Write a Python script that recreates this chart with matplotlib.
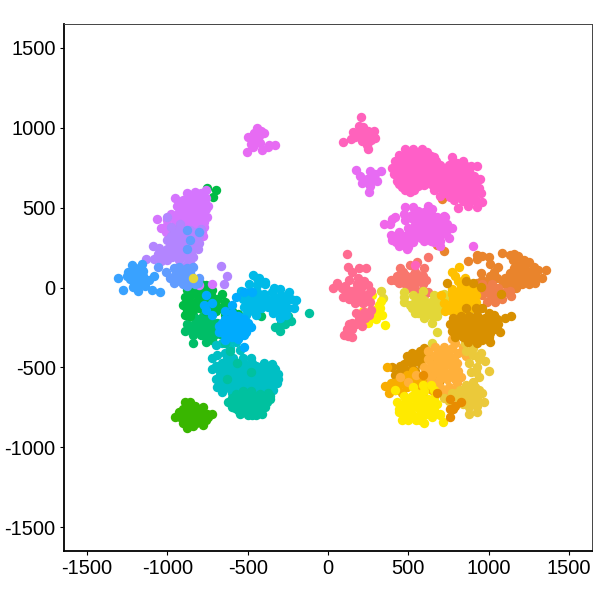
import matplotlib
matplotlib.use("Agg")
import matplotlib.pyplot as plt

plt.rcParams["font.family"] = ["Liberation Sans", "DejaVu Sans"]
plt.rcParams["axes.unicode_minus"] = False

# cluster points (x, y)
salmon = [(450,120),(480,80),(510,40),(470,30),(430,70),(390,50),(440,30),(510,140),(555,160),(620,190),(600,120),(590,70),(610,45),(560,80),(540,100),(520,70),(590,20),(500,0),(540,-10),(620,-30),(600,-50),(465,100),(495,60),(455,55),(415,50),(570,50),(540,30),(575,-30),(500,25)]
orange = [(925,205),(960,195),(930,180),(1000,190),(1080,215),(1130,205),(1160,210),(870,165),(1010,150),(1060,130),(1150,170),(1180,200),(1220,175),(1250,160),(1190,140),(1130,90),(1180,100),(1230,110),(1280,130),(1310,110),(1355,110),(1330,60),(1290,70),(1250,60),(1200,60),(1150,60),(1250,20),(1290,30),(1210,20),(1170,30),(1130,40),(1170,-5),(1120,0),(1090,30),(1050,60),(1010,70),(950,90),(960,50),(930,30),(1000,40),(1220,140),(1260,100),(1160,120),(1210,85),(1280,90),(1240,40),(1190,40),(1150,15),(1100,60),(1030,100)]
orange2 = [(940,-10),(980,-20),(1020,20),(1060,0),(1100,-30),(1060,-50),(1010,-40),(1040,-90),(1080,-70),(1130,-20),(960,-50),(990,-90),(1140,-55),(1030,-20),(1000,0),(1060,-25),(1030,-60),(960,20)]
olive_yellow = [(330,-25),(340,-65),(475,-30),(475,-90),(530,-45),(590,-20),(660,-45),(600,-80),(540,-90),(510,-110),(550,-130),(590,-110),(640,-90),(680,-100),(720,-90),(560,-160),(610,-150),(650,-130),(690,-150),(730,-130),(520,-130),(640,-170),(600,-190),(680,-180),(645,-220),(650,-350),(680,-280),(770,-30),(470,-60),(745,-80),(720,-40),(570,-60),(620,-120),(580,-140),(540,-160),(660,-70),(700,-120),(660,-160),(620,-110),(560,-110)]
yellow_small = [(275,-50),(320,-110),(310,-150),(330,-85),(295,-140),(215,-150),(260,-170),(300,-180),(335,-170),(255,-200),(250,-225),(355,-235),(300,-195),(325,-130)]
pinksalmon = [(120,210),(125,130),(190,120),(235,120),(150,95),(185,60),(130,45),(225,40),(180,20),(250,15),(30,0),(55,30),(85,-5),(105,10),(145,-20),(170,-15),(205,0),(150,-50),(115,-30),(95,-60),(180,-50),(215,-60),(250,-40),(165,-95),(215,-100),(260,-90),(270,-20),(175,-160),(225,-155),(270,-140),(130,-230),(175,-230),(210,-240),(150,-260),(100,-300),(150,-310),(255,-170),(190,-200),(130,-20),(165,-70),(200,-30),(130,-70),(240,-70),(190,-85),(230,-190),(150,-220),(125,-305),(120,-260)]
gold = [(790,70),(770,-10),(705,-50),(815,130),(770,95),(850,60),(880,20),(830,10),(850,-10),(800,-30),(880,-40),(900,-10),(920,-50),(830,-60),(780,-70),(750,-110),(790,-110),(840,-100),(880,-90),(920,-90),(860,-140),(810,-150),(770,-150),(900,-130),(730,-150),(940,-130),(810,40),(830,-30),(860,-70),(810,-80),(860,-30),(770,-40),(890,-65),(830,-125),(870,-110),(720,-100),(900,-50)]
dgold = [(860,40),(900,30),(950,5),(740,30),(1075,-40),(860,-130),(920,-130),(960,-130),(1000,-160),(780,-190),(830,-180),(880,-180),(930,-170),(980,-190),(1030,-170),(1050,-200),(1100,-190),(1140,-180),(760,-230),(810,-230),(860,-220),(910,-220),(960,-230),(1010,-220),(1060,-230),(770,-270),(830,-270),(880,-260),(930,-270),(980,-270),(1030,-260),(1070,-280),(790,-310),(840,-310),(890,-300),(940,-310),(1000,-310),(1010,-340),(870,-340),(930,-350),(960,-330),(800,-210),(855,-200),(905,-195),(955,-200),(1005,-195),(800,-250),(855,-245),(905,-245),(955,-250),(1005,-245),(1045,-245),(815,-290),(860,-285),(910,-285),(960,-290),(1010,-285),(865,-320),(920,-330)]
dgold2 = [(520,-410),(570,-400),(600,-380),(620,-420),(580,-440),(640,-440),(490,-430),(550,-450),(470,-480),(520,-480),(580,-480),(400,-500),(450,-520),(490,-520),(420,-550),(540,-520),(530,-560),(650,-560),(690,-590),(540,-425),(500,-455),(450,-490)]
amber = [(355,-615),(370,-500),(380,-660),(395,-600),(420,-640),(450,-580),(490,-550),(530,-600),(490,-620),(440,-610),(460,-660),(400,-620),(560,-640),(570,-580),(620,-560),(610,-610),(650,-640),(590,-660),(530,-520),(700,-650),(470,-590),(510,-570),(550,-610),(430,-590)]
lorange = [(620,-400),(665,-370),(720,-370),(770,-380),(770,-320),(780,-280),(620,-450),(660,-430),(710,-420),(760,-430),(810,-410),(840,-370),(860,-430),(600,-500),(650,-480),(700,-470),(750,-480),(800,-470),(620,-550),(670,-530),(720,-520),(770,-530),(810,-520),(640,-590),(690,-580),(740,-570),(790,-570),(830,-560),(700,-620),(750,-620),(780,-640),(720,-660),(800,-600),(550,-550),(450,-560),(500,-590),(690,-395),(740,-400),(790,-350),(680,-450),(735,-450),(785,-450),(625,-510),(675,-505),(725,-495),(775,-505),(650,-555),(700,-550),(750,-545),(800,-545),(665,-610)]
yellow2 = [(850,-350),(900,-380),(950,-410),(940,-450),(980,-460),(1000,-520),(930,-500),(880,-470),(890,-530),(940,-560),(900,-590),(940,-640),(960,-660),(900,-640),(860,-610),(820,-640),(770,-660),(810,-690),(850,-680),(890,-700),(930,-700),(970,-720),(880,-750),(930,-780),(840,-730),(880,-790),(750,-710),(720,-690),(900,-420),(860,-400),(915,-620),(860,-650),(900,-670),(800,-660),(850,-705),(890,-725),(930,-740),(920,-530)]
dorange = [(760,-700),(790,-740),(760,-760),(830,-720),(780,-760),(760,-810),(680,-660),(590,-550)]
yellow = [(420,-640),(470,-680),(430,-720),(500,-700),(550,-660),(600,-650),(660,-640),(640,-610),(590,-610),(530,-620),(440,-780),(470,-740),(520,-750),(570,-720),(620,-700),(660,-690),(680,-730),(470,-800),(520,-790),(570,-770),(620,-760),(660,-770),(500,-830),(550,-830),(600,-850),(650,-810),(700,-790),(715,-840),(700,-800),(460,-830),(540,-700),(600,-800),(490,-770),(640,-730),(440,-760),(560,-810),(580,-680),(500,-730),(545,-740),(590,-745),(630,-790),(530,-810),(480,-720),(600,-720),(520,-680),(470,-770),(660,-740),(575,-830)]
pink_top = [(203,1068),(195,1012),(157,971),(95,914),(141,929),(220,1002),(251,981),(286,981),(292,935),(251,866),(251,908),(209,918),(178,960),(220,960),(261,950),(170,945),(200,985),(230,930),(240,890),(270,925)]
pink1 = [(480,870),(530,865),(585,870),(440,830),(490,835),(540,825),(590,830),(640,825),(420,790),(470,785),(520,790),(570,785),(620,790),(670,790),(400,750),(450,750),(500,745),(550,750),(600,745),(650,750),(685,760),(410,710),(460,715),(510,705),(560,710),(610,705),(660,710),(430,670),(480,670),(530,665),(580,670),(630,665),(460,630),(510,630),(560,635),(600,640),(510,600),(440,650),(505,850),(560,850),(615,850),(465,810),(515,810),(565,810),(615,810),(660,815),(445,770),(495,768),(545,768),(595,768),(645,770),(425,730),(475,730),(525,725),(575,728),(625,728),(675,730),(455,690),(505,688),(555,688),(605,685),(650,690),(485,650),(535,648),(585,650),(535,612),(480,610)]
pink2 = [(770,815),(800,780),(840,790),(700,770),(750,770),(890,760),(680,730),(730,730),(780,735),(830,740),(880,730),(925,760),(910,700),(650,690),(700,695),(750,690),(800,695),(850,690),(900,680),(640,650),(690,650),(740,655),(790,650),(840,650),(890,640),(945,680),(940,620),(660,610),(710,615),(760,610),(810,610),(860,600),(910,590),(950,590),(700,570),(760,565),(810,570),(860,570),(920,550),(960,535),(810,500),(870,510),(925,505),(770,780),(725,750),(775,755),(825,765),(860,760),(705,712),(755,712),(805,715),(855,715),(890,705),(665,670),(715,672),(765,672),(815,672),(865,670),(915,660),(685,630),(735,632),(785,630),(835,630),(885,615),(915,625),(735,590),(785,590),(835,590),(885,575),(785,545),(840,540),(890,540),(870,540)]
orchid_small = [(174,737),(199,700),(209,652),(261,731),(327,731),(292,710),(303,669),(261,637),(255,596),(271,679),(240,679),(280,690),(255,655)]
orchid_pink = [(480,505),(530,505),(625,510),(650,490),(420,440),(470,460),(520,455),(560,480),(600,470),(640,460),(350,400),(385,395),(400,430),(480,420),(530,430),(580,440),(620,440),(680,440),(720,450),(730,440),(495,370),(540,390),(590,400),(640,400),(690,400),(740,395),(770,370),(390,330),(440,350),(490,330),(530,340),(580,360),(630,360),(680,350),(720,340),(400,295),(450,300),(500,295),(550,320),(600,290),(640,290),(690,320),(750,310),(440,260),(500,255),(490,240),(660,285),(700,290),(700,260),(900,259),(610,420),(660,420),(700,420),(560,415),(515,365),(565,380),(610,380),(660,380),(710,375),(420,320),(465,325),(510,310),(555,345),(605,335),(655,330),(700,320),(740,360),(425,285),(475,280),(530,285),(580,310),(620,310),(470,265)]
orchid_top = [(-442,1000),(-460,970),(-500,940),(-470,930),(-430,950),(-400,970),(-425,905),(-505,850),(-465,880),(-410,860),(-365,890),(-330,895),(-375,880),(-440,930),(-480,900),(-420,980),(-445,955),(-465,950)]
purple = [(-760,610),(-790,590),(-830,600),(-880,590),(-955,560),(-800,560),(-850,560),(-905,550),(-760,560),(-940,510),(-890,510),(-840,515),(-790,520),(-745,510),(-980,460),(-930,470),(-880,470),(-830,470),(-780,475),(-750,440),(-1000,420),(-950,420),(-900,420),(-850,430),(-800,430),(-770,410),(-1065,430),(-960,370),(-1040,370),(-770,380),(-785,350),(-1010,350),(-800,400),(-875,385),(-800,15),(-850,60),(-725,20),(-820,580),(-870,535),(-815,540),(-770,540),(-915,490),(-865,490),(-810,495),(-760,490),(-960,440),(-910,445),(-860,450),(-810,450),(-770,455),(-925,400),(-830,400),(-1000,390),(-780,320),(-850,575),(-920,530)]
periwinkle = [(-1000,440),(-920,400),(-860,360),(-960,340),(-910,340),(-850,320),(-800,330),(-1000,300),(-950,290),(-900,300),(-840,280),(-800,280),(-1090,260),(-1050,250),(-1000,240),(-950,240),(-900,250),(-850,240),(-810,240),(-1020,190),(-970,190),(-930,190),(-880,190),(-840,190),(-1130,180),(-1080,180),(-930,170),(-880,150),(-850,140),(-668,135),(-629,75),(-647,23),(-885,290),(-790,365),(-975,380),(-925,360),(-880,340),(-830,345),(-980,320),(-930,315),(-880,320),(-825,310),(-975,265),(-925,270),(-875,265),(-825,260),(-1030,220),(-975,215),(-925,220),(-870,215),(-1000,170),(-905,205),(-850,215),(-1060,210),(-1040,165)]
blue2 = [(-1060,130),(-1010,100),(-985,60),(-960,120),(-925,130),(-900,90),(-950,80),(-880,50),(-840,130),(-920,40),(-960,30),(-850,70),(-880,10),(-830,20),(-800,60),(-905,20),(-880,240),(-860,300),(-800,350),(-880,360),(-930,90),(-900,60),(-860,100),(-880,120),(-960,55),(-830,50),(-810,30)]
blue1 = [(-1305,58),(-1278,-13),(-1222,144),(-1160,148),(-1243,100),(-1191,85),(-1149,106),(-1232,54),(-1180,44),(-1139,44),(-1212,2),(-1180,-23),(-1098,-13),(-1044,-27),(-1083,69),(-1112,48),(-1139,12),(-1200,120),(-1170,120),(-1250,70),(-1210,30),(-1150,75),(-1215,80),(-1170,65),(-1180,15),(-1160,105),(-1210,100)]
olive_dot = [(-842,58)]
green = [(-751,623),(-697,610),(-714,569),(-880,-15),(-840,-10),(-790,20),(-760,15),(-720,-15),(-660,-40),(-890,-60),(-850,-50),(-810,-45),(-770,-40),(-730,-50),(-690,-70),(-640,-90),(-900,-110),(-860,-95),(-820,-90),(-780,-85),(-740,-100),(-700,-110),(-660,-130),(-620,-120),(-880,-140),(-840,-140),(-800,-130),(-860,-180),(-760,-150),(-700,-150),(-640,-170),(-890,-170),(-465,-130),(-600,-150),(-560,-165),(-860,-30),(-800,-15),(-750,-20),(-870,-75),(-790,-65),(-750,-70),(-705,-90),(-820,-115),(-720,-130)]
green2 = [(-840,-170),(-780,-180),(-730,-170),(-880,-230),(-830,-220),(-780,-220),(-730,-210),(-690,-220),(-890,-270),(-850,-260),(-800,-260),(-750,-260),(-700,-260),(-660,-260),(-840,-300),(-790,-300),(-750,-310),(-710,-300),(-670,-290),(-838,-345),(-760,-340),(-720,-330),(-450,-150),(-420,-180),(-855,-240),(-805,-240),(-755,-235),(-710,-240),(-820,-280),(-770,-280),(-725,-280),(-800,-200),(-750,-195)]
azure = [(-600,-110),(-640,-150),(-600,-160),(-560,-180),(-520,-200),(-640,-200),(-600,-210),(-560,-220),(-520,-240),(-480,-250),(-680,-240),(-640,-250),(-600,-260),(-560,-270),(-510,-280),(-680,-280),(-640,-295),(-600,-310),(-560,-320),(-640,-330),(-520,-300),(-520,-375),(-470,-30),(-520,-30),(-570,-60),(-720,-170),(-770,-110),(-760,-50),(-720,-100),(-760,-140),(-620,-225),(-580,-240),(-540,-255),(-660,-265),(-620,-280),(-580,-295),(-540,-300),(-500,-225),(-660,-225),(-600,-185)]
cyan = [(-465,80),(-440,60),(-430,60),(-390,35),(-490,20),(-440,15),(-390,20),(-335,-5),(-540,-20),(-490,-30),(-440,-30),(-400,-40),(-350,-30),(-300,-10),(-530,-70),(-480,-80),(-430,-80),(-380,-70),(-330,-60),(-290,-50),(-240,-30),(-520,-120),(-470,-120),(-350,-110),(-310,-110),(-270,-90),(-230,-70),(-200,-80),(-510,-170),(-450,-170),(-340,-160),(-290,-150),(-250,-130),(-210,-130),(-300,-190),(-260,-170),(-590,-240),(-610,-280),(-560,-290),(-375,-120),(-420,-130),(-540,-230),(-510,-45),(-465,-55),(-410,-60),(-355,-85),(-300,-80),(-260,-60),(-500,-100),(-450,-100),(-400,-105),(-310,-135),(-270,-125),(-490,-145),(-450,-140)]
teal = [(-700,-360),(-660,-350),(-610,-330),(-570,-340),(-610,-380),(-550,-390),(-720,-440),(-690,-420),(-640,-410),(-590,-440),(-530,-440),(-480,-440),(-660,-470),(-610,-480),(-560,-490),(-500,-490),(-450,-490),(-400,-470),(-350,-480),(-720,-510),(-670,-520),(-620,-530),(-570,-530),(-520,-530),(-470,-530),(-420,-520),(-370,-520),(-330,-510),(-310,-540),(-700,-570),(-650,-580),(-600,-580),(-550,-570),(-500,-570),(-450,-570),(-400,-570),(-350,-570),(-310,-570),(-690,-620),(-640,-630),(-590,-620),(-540,-610),(-470,-610),(-420,-610),(-370,-610),(-320,-600),(-340,-640),(-390,-650),(-440,-650),(-660,-655),(-600,-660),(-630,-440),(-580,-465),(-530,-465),(-475,-470),(-425,-495),(-375,-495),(-695,-490),(-645,-495),(-595,-505),(-545,-510),(-495,-510),(-445,-510),(-395,-505),(-345,-500),(-675,-545),(-625,-555),(-575,-555),(-525,-550),(-475,-550),(-425,-545),(-375,-545),(-330,-530),(-665,-600),(-615,-600),(-565,-595),(-515,-590),(-475,-590),(-425,-590),(-375,-590),(-330,-585),(-645,-610),(-570,-640),(-520,-635),(-415,-630),(-365,-630),(-495,-630),(-445,-625)]
teal2 = [(-610,-400),(-565,-470),(-630,-570),(-530,-650),(-480,-650),(-600,-690),(-550,-690),(-500,-690),(-450,-690),(-400,-690),(-360,-680),(-620,-720),(-580,-730),(-530,-730),(-480,-730),(-430,-730),(-380,-720),(-600,-750),(-560,-770),(-510,-770),(-470,-780),(-420,-770),(-550,-790),(-500,-800),(-450,-800),(-410,-790),(-480,-530),(-640,-350),(-250,-180),(-120,-160),(-230,-210),(-270,-230),(-330,-250),(-300,-270),(-290,-220),(-575,-670),(-525,-670),(-475,-670),(-425,-670),(-375,-660),(-600,-705),(-555,-710),(-505,-710),(-455,-710),(-405,-710),(-360,-700),(-580,-755),(-535,-750),(-485,-750),(-435,-755),(-395,-750),(-525,-780),(-475,-800),(-430,-785)]
ogreen = [(-950,-810),(-930,-780),(-890,-720),(-860,-720),(-830,-740),(-900,-760),(-860,-780),(-810,-770),(-780,-750),(-750,-790),(-920,-810),(-880,-820),(-840,-810),(-790,-810),(-760,-830),(-900,-850),(-860,-850),(-820,-850),(-780,-860),(-880,-880),(-840,-870),(-720,-790),(-880,-745),(-840,-760),(-880,-790),(-830,-790),(-780,-785),(-745,-810)]
extra_pink = [(541,138)]
extra_orange = [(707,554),(680,267),(722,227)]

groups = [
    (salmon, "#F8766D"), (orange, "#E9842C"), (orange2, "#F07F4A"), (olive_yellow, "#E3D738"),
    (dgold2, "#D89000"), (amber, "#F8AC00"), (lorange, "#FFB03B"), (yellow2, "#EBC93A"),
    (yellow, "#FFEA00"), (dorange, "#E88C00"), (yellow_small, "#FFF000"), (pinksalmon, "#FF6C91"),
    (gold, "#FFC000"), (dgold, "#D89000"), (extra_orange, "#E9842C"), (pink_top, "#FF62BC"),
    (pink1, "#FF5FC8"), (pink2, "#FF5FC8"), (extra_pink, "#FF62BC"), (orchid_pink, "#F066EA"),
    (orchid_small, "#E76BF3"), (orchid_top, "#E76BF3"), (green2, "#00BE67"), (green, "#00BB45"),
    (teal, "#00BFC4"), (teal2, "#00C19F"), (cyan, "#00BAE8"), (azure, "#00ABFD"),
    (ogreen, "#39B600"), (purple, "#D575FE"), (periwinkle, "#B385FF"), (blue2, "#619CFF"),
    (blue1, "#39A2FF"), (olive_dot, "#E3D738"),
]
ticks = [-1500, -1000, -500, 0, 500, 1000, 1500]

fig = plt.figure(figsize=(6, 6), dpi=100)
ax = fig.add_axes([64 / 600, 1 - 551 / 600, 528 / 600, 527 / 600])
for pts, col in groups:
    ax.scatter([p[0] for p in pts], [p[1] for p in pts], s=46, c=col, linewidths=0, zorder=3)

ax.set_xlim(-1643, 1643)
ax.set_ylim(-1650, 1650)
ax.set_xticks(ticks)
ax.set_yticks(ticks)
ax.tick_params(labelsize=14.5, length=3, width=0.8, colors="black", pad=3)
for s in ["top", "right"]:
    ax.spines[s].set_linewidth(0.7)
    ax.spines[s].set_color("#444444")
for s in ["left", "bottom"]:
    ax.spines[s].set_linewidth(1.3)
    ax.spines[s].set_color("black")

fig.savefig("out.png", dpi=100)
